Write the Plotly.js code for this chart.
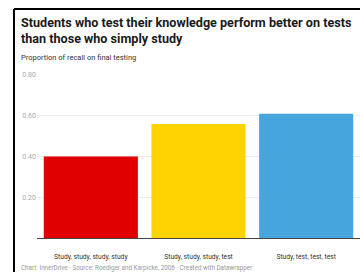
<!DOCTYPE html>
<html>
<head>
<meta charset="utf-8">
<script src="https://cdn.plot.ly/plotly-3.0.1.min.js"></script>
<style>
html,body{margin:0;padding:0;background:#fff;}
#chart{width:360px;height:272px;}
</style>
</head>
<body>
<div id="chart"></div>
<script>
const categories = ["Study, study, study, study", "Study, study, study, test", "Study, test, test, test"];
const recall = [0.40, 0.56, 0.61];
const barColors = ["#E00000", "#FFD300", "#47A5DE"];
const tickValues = [0, 0.2, 0.4, 0.6, 0.8];
const tickLabels = ["", "0.20", "0.40", "0.60", "0.80"];
const titleLines = ["Students who test their knowledge perform better on tests", "than those who simply study"];

const W = 360, H = 272;
const mL = 37, mR = 0, mT = 75, mB = 34;
const pw = W - mL - mR, ph = H - mT - mB;
const px = x => (x - mL) / pw;
const py = y => (H - mB - y) / ph;

const data = [{
  type: 'bar',
  x: categories,
  y: recall,
  marker: {color: barColors},
  hoverinfo: 'skip'
}];

const layout = {
  width: W, height: H,
  margin: {l: mL, r: mR, t: mT, b: mB, pad: 0},
  paper_bgcolor: '#fff', plot_bgcolor: '#fff',
  bargap: 0.126,
  font: {family: 'Roboto, sans-serif', color: '#333'},
  showlegend: false,
  xaxis: {
    type: 'category',
    showgrid: false, zeroline: false, showline: false,
    ticks: '', tickfont: {size: 6.7, color: '#333'},
    ticklabelstandoff: 13,
    automargin: false
  },
  yaxis: {
    range: [0, 0.8],
    tickvals: tickValues, ticktext: tickLabels,
    showgrid: true, gridcolor: '#ececec', gridwidth: 1,
    zeroline: true, zerolinecolor: '#444', zerolinewidth: 1,
    showline: false, ticks: '',
    tickfont: {size: 7, color: '#aaa'},
    automargin: false
  },
  annotations: [
    {
      text: '<b>' + titleLines[0] + '</b>',
      xref: 'paper', yref: 'paper', x: px(19), y: py(22),
      xanchor: 'left', yanchor: 'middle', showarrow: false,
      font: {size: 12.6, color: '#1a1a1a'}
    },
    {
      text: '<b>' + titleLines[1] + '</b>',
      xref: 'paper', yref: 'paper', x: px(19), y: py(38),
      xanchor: 'left', yanchor: 'middle', showarrow: false,
      font: {size: 12.6, color: '#1a1a1a'}
    },
    {
      text: 'Proportion of recall on final testing',
      xref: 'paper', yref: 'paper', x: px(19), y: py(58),
      xanchor: 'left', yanchor: 'middle', showarrow: false,
      font: {size: 7.5, color: '#333'}
    },
    {
      text: 'Chart: InnerDrive · Source: Roediger and Karpicke, 2006 · Created with Datawrapper',
      xref: 'paper', yref: 'paper', x: px(19), y: py(268),
      xanchor: 'left', yanchor: 'middle', showarrow: false,
      font: {size: 6.3, color: '#999'}
    }
  ],
  shapes: [
    {type: 'line', xref: 'paper', yref: 'paper', x0: px(14), x1: px(360), y0: py(9), y1: py(9),
     line: {color: '#000', width: 2}},
    {type: 'line', xref: 'paper', yref: 'paper', x0: px(14), x1: px(14), y0: py(9), y1: py(272),
     line: {color: '#000', width: 2}}
  ]
};

Plotly.newPlot('chart', data, layout, {displayModeBar: false, staticPlot: true});
</script>
</body>
</html>
